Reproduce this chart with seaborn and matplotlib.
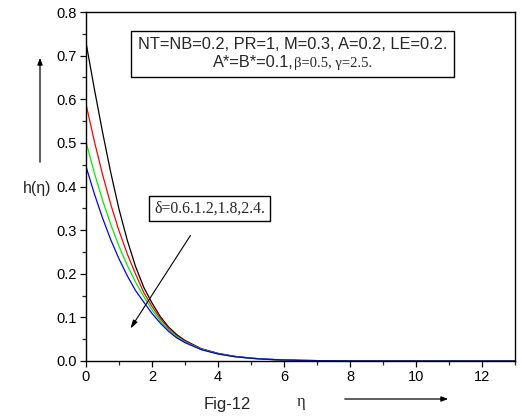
import numpy as np
import pandas as pd
import seaborn as sns
import matplotlib
matplotlib.use("Agg")
import matplotlib.pyplot as plt
from matplotlib.ticker import MultipleLocator
from matplotlib.offsetbox import TextArea, HPacker, VPacker, AnchoredOffsetbox

# ---- data ----
eta = [0, 0.25, 0.5, 0.75, 1.0, 1.25, 1.5, 1.75, 2.0, 2.25, 2.5, 2.75, 3.0, 3.5,
       4.0, 4.5, 5.0, 5.5, 6.0, 6.5, 7.0, 8.0, 9.0, 10.0, 11.0, 12.0, 13.0]
h_black = [0.730, 0.625, 0.525, 0.432, 0.348, 0.277, 0.217, 0.169, 0.133, 0.102, 0.078,
           0.0605, 0.047, 0.028, 0.0175, 0.0108, 0.0066, 0.0040, 0.0024, 0.0014, 0.0009,
           0.0003, 0.0001, 0.00004, 0.0, 0.0, 0.0]
h_red = [0.589, 0.5045, 0.428, 0.359, 0.2985, 0.2456, 0.1996, 0.157, 0.125, 0.097, 0.075,
         0.058, 0.045, 0.027, 0.017, 0.0105, 0.0064, 0.0039, 0.0023, 0.0014, 0.0009,
         0.0003, 0.0001, 0.00004, 0.0, 0.0, 0.0]
h_green = [0.502, 0.432, 0.369, 0.313, 0.263, 0.2195, 0.181, 0.148, 0.117, 0.092, 0.0715,
           0.0555, 0.0435, 0.0265, 0.0165, 0.0102, 0.0063, 0.0038, 0.0023, 0.0014, 0.0009,
           0.0003, 0.0001, 0.00004, 0.0, 0.0, 0.0]
h_blue = [0.446, 0.384, 0.328, 0.278, 0.234, 0.1955, 0.1616, 0.135, 0.109, 0.087, 0.068,
          0.053, 0.042, 0.0258, 0.016, 0.0099, 0.0061, 0.0037, 0.0022, 0.0013, 0.0008,
          0.0003, 0.0001, 0.00004, 0.0, 0.0, 0.0]
deltas = ["0.6", "1.2", "1.8", "2.4"]
colors = ["black", "red", "#00ee00", "blue"]

x_ticks = [0, 2, 4, 6, 8, 10, 12]
y_ticks = [0.0, 0.1, 0.2, 0.3, 0.4, 0.5, 0.6, 0.7, 0.8]

rows = []
for d, series in zip(deltas, [h_black, h_red, h_green, h_blue]):
    for e, v in zip(eta, series):
        rows.append({"eta": e, "h": v, "delta": d})
df = pd.DataFrame(rows)

sns.set_style("ticks")
plt.rcParams["font.family"] = ["Liberation Sans", "DejaVu Sans"]

fig = plt.figure(figsize=(5.22, 4.17), dpi=100)
ax = fig.add_axes([86 / 522, 1 - 361 / 417, (515 - 86) / 522, (361 - 12) / 417])

sns.lineplot(data=df, x="eta", y="h", hue="delta", palette=dict(zip(deltas, colors)),
             hue_order=deltas, legend=False, linewidth=0.9, ax=ax, sort=False)

ax.set_xlim(0, 13)
ax.set_ylim(0, 0.8)
ax.set_xticks(x_ticks)
ax.set_yticks(y_ticks)
ax.set_yticklabels([f"{v:.1f}" for v in y_ticks])
ax.xaxis.set_minor_locator(MultipleLocator(1))
ax.yaxis.set_minor_locator(MultipleLocator(0.05))
ax.tick_params(which="major", direction="out", length=4.5, width=0.9, labelsize=10.5,
               colors="black", pad=2)
ax.tick_params(which="minor", direction="out", length=3, width=0.9)
ax.tick_params(top=False, right=False)
ax.set_xlabel("")
ax.set_ylabel("")
for s in ax.spines.values():
    s.set_visible(True)
    s.set_linewidth(1.0)
    s.set_color("black")

# parameter box
ta1 = TextArea("NT=NB=0.2, PR=1, M=0.3, A=0.2, LE=0.2.",
               textprops=dict(fontsize=11.8, family=["Liberation Sans"]))
ta2a = TextArea("A*=B*=0.1,", textprops=dict(fontsize=11.8, family=["Liberation Sans"]))
ta2b = TextArea("β=0.5, γ=2.5.", textprops=dict(fontsize=10.5, family=["Liberation Serif"]))
line2 = HPacker(children=[ta2a, ta2b], align="baseline", pad=0, sep=0)
pack = VPacker(children=[ta1, line2], align="center", pad=0, sep=2)
abox = AnchoredOffsetbox(loc="center", child=pack, pad=0.5, borderpad=0, frameon=True,
                         bbox_to_anchor=(0.481, 0.880), bbox_transform=ax.transAxes)
abox.patch.set_boxstyle("square", pad=0)
abox.patch.set_edgecolor("black")
abox.patch.set_linewidth(1.0)
ax.add_artist(abox)

# delta box
ax.text(3.745, 0.349, "δ=0.6.1.2,1.8,2.4.", fontsize=11.3, family=["Liberation Serif"],
        ha="center", va="center",
        bbox=dict(boxstyle="square,pad=0.3", fc="white", ec="black", lw=1.0))
ax.annotate("", xy=(1.30, 0.069), xytext=(3.21, 0.293),
            arrowprops=dict(arrowstyle="-|>,head_length=0.5,head_width=0.15",
                            color="black", lw=0.8))

# outer labels
fig.text(37 / 522, 1 - 188 / 417, "h(η)", fontsize=11.5, ha="center", va="center")
fig.text(227 / 522, 1 - 405 / 417, "Fig-12", fontsize=12, ha="center", va="center")
fig.text(301 / 522, 1 - 402 / 417, "η", fontsize=12, family=["Liberation Serif"],
         ha="center", va="center")
fig.add_artist(matplotlib.patches.FancyArrowPatch(
    (40 / 522, 1 - 165 / 417), (40 / 522, 1 - 55 / 417), transform=fig.transFigure,
    arrowstyle="-|>,head_length=4,head_width=1.5", color="black", lw=0.9))
fig.add_artist(matplotlib.patches.FancyArrowPatch(
    (342 / 522, 1 - 399 / 417), (451 / 522, 1 - 399 / 417), transform=fig.transFigure,
    arrowstyle="-|>,head_length=4,head_width=1.5", color="black", lw=0.9))

fig.savefig("out.png", dpi=100)
